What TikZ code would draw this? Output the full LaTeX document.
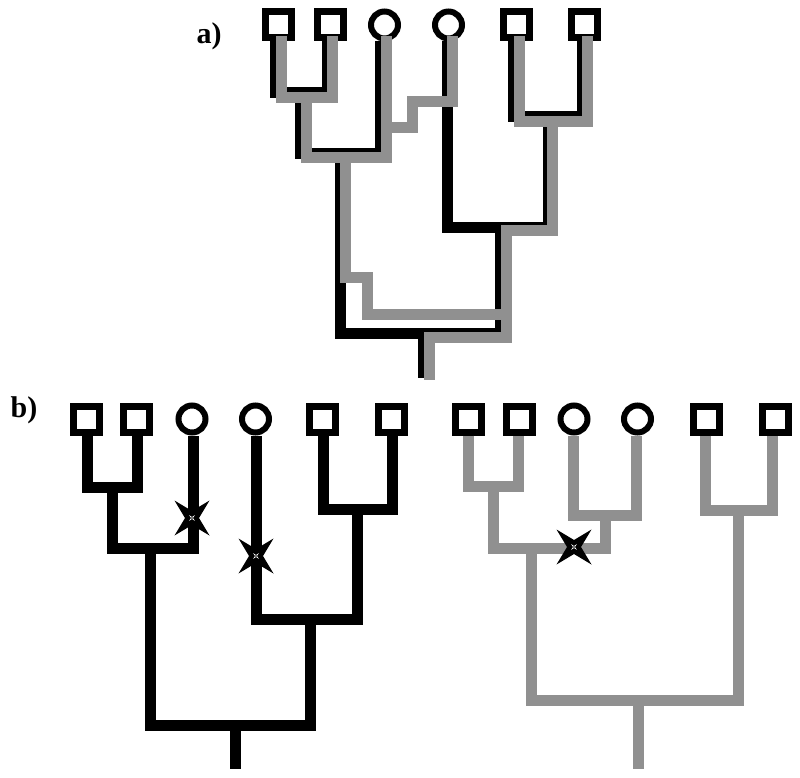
\documentclass[tikz,border=0pt]{standalone}
\usepackage{fontspec}
\setmainfont{Liberation Serif}
\definecolor{treegray}{RGB}{144,144,144}
\tikzset{
  xstar/.pic={
    \fill[black] (17.5,17.5) -- (0,7) -- (-17.5,17.5) -- (-7,0) -- (-17.5,-17.5) -- (0,-7) -- (17.5,-17.5) -- (7,0) -- cycle;
    \fill[white] (2.8,2.8) -- (0,1) -- (-2.8,2.8) -- (-1,0) -- (-2.8,-2.8) -- (0,-1) -- (2.8,-2.8) -- (1,0) -- cycle;
    \fill[black] (0,0) circle (0.8);
  }
}
\begin{document}
\begin{tikzpicture}[x=1pt,y=-1pt,
  sq/.style={draw=black,line width=7pt,rectangle,minimum size=26pt,inner sep=0pt,fill=white},
  ci/.style={draw=black,line width=6pt,circle,minimum size=27pt,inner sep=0pt,fill=white},
  blk/.style={draw=black,line width=11pt,line join=miter},
  gry/.style={draw=treegray,line width=11pt,line join=miter},
  lab/.style={font=\fontsize{30}{30}\selectfont\bfseries,inner sep=0pt}
]
\useasboundingbox (0,0) rectangle (800,778);

% ---------- labels ----------
\node[lab] (la) at (209,36) {a)};
\node[lab] (lb) at (24,410) {b)};

% ---------- a) tips ----------
\node[sq] (as1) at (278.5,25) {};
\node[sq] (as2) at (330,25) {};
\node[ci] (ac1) at (384.5,25) {};
\node[ci] (ac2) at (448.5,25) {};
\node[sq] (as5) at (516.5,25) {};
\node[sq] (as6) at (584,25) {};

% a) junction coordinates
\coordinate (aj1) at (300.5,92.5);
\coordinate (aj2) at (340,153.5);
\coordinate (aj3) at (548,117);
\coordinate (aj4) at (500,227);
\coordinate (aj5) at (423.5,333);
\coordinate (aend) at (423.5,378);

% a) black tree
\draw[blk] ([xshift=-3pt]as1.south) |- (327.5,92.5) -- ([xshift=-2.5pt]as2.south);
\draw[blk] (aj1) |- (380.5,153.5) -- ([xshift=-4pt]ac1.south);
\draw[blk] ([xshift=-3pt]as5.south) |- (582,117) -- ([xshift=-2pt]as6.south);
\draw[blk] (aj3) |- (447,227) -- ([xshift=-1.5pt]ac2.south);
\draw[blk] (aj2) |- (500,333) -- (aj4);
\draw[blk] (aj5) -- (aend);

% a) gray tree
\coordinate (gj1) at (306,97.5);
\coordinate (gj2) at (345,158);
\coordinate (gj3) at (552.5,121.5);
\coordinate (gjc) at (386.5,128);
\coordinate (gend) at (429,380);
\draw[gry] ([shift={(3pt,5pt)}]as1.south) |- (332,97.5) -- ([shift={(2pt,5pt)}]as2.south);
\draw[gry] (gj1) |- (386.5,158) -- ([shift={(2pt,5pt)}]ac1.south);
\draw[gry] (gjc) -| (412,102) -| ([shift={(3.5pt,5pt)}]ac2.south);
\draw[gry] ([shift={(2.5pt,5pt)}]as5.south) |- (587.5,121.5) -- ([shift={(3.5pt,5pt)}]as6.south);
\draw[gry] (gj3) |- (506,230) |- (429,337.5) -- (gend);
\draw[gry] (gj2) |- (367.5,277.5) |- (506,314);

% ---------- b) left (black) ----------
\node[sq] (bs1) at (86.5,419) {};
\node[sq] (bs2) at (136.5,419) {};
\node[ci] (bc1) at (192,419) {};
\node[ci] (bc2) at (255.5,419) {};
\node[sq] (bs5) at (322.5,419) {};
\node[sq] (bs6) at (391.5,419) {};

\coordinate (bj1) at (112,487);
\coordinate (bj2) at (150.5,548);
\coordinate (bj3) at (357,509);
\coordinate (bj4) at (310,619.5);
\coordinate (bj5) at (235,725);
\coordinate (bend) at (235,769);

\draw[blk] ([xshift=0.5pt]bs1.south) |- (137,487) -- ([xshift=0.5pt]bs2.south);
\draw[blk] (bj1) |- (193,548) -- ([xshift=1pt]bc1.south);
\draw[blk] ([xshift=0.5pt]bs5.south) |- (392,509) -- ([xshift=0.5pt]bs6.south);
\draw[blk] (bj3) |- (256,619.5) -- ([xshift=0.5pt]bc2.south);
\draw[blk] (bj2) |- (310,725) -- (bj4);
\draw[blk] (bj5) -- (bend);

\pic at (192,518) {xstar};
\pic at (256,556) {xstar};

% ---------- b) right (gray) ----------
\node[sq] (cs1) at (468.5,419) {};
\node[sq] (cs2) at (519,419) {};
\node[ci] (cc1) at (574,419) {};
\node[ci] (cc2) at (637.5,419) {};
\node[sq] (cs5) at (706.5,419) {};
\node[sq] (cs6) at (775,419) {};

\coordinate (cj1) at (493.5,486);
\coordinate (cjc) at (605.5,515.5);
\coordinate (cj2) at (531.5,548);
\coordinate (cj3) at (738.5,510.5);
\coordinate (cj4) at (638.5,700.5);
\coordinate (cend) at (638.5,769);

\draw[gry] ([xshift=-0.5pt]cs1.south) |- (518.5,486) -- ([xshift=-0.5pt]cs2.south);
\draw[gry] ([xshift=-0.5pt]cc1.south) |- (636.5,515.5) -- ([xshift=-1pt]cc2.south);
\draw[gry] (cj1) |- (605.5,548) -- (cjc);
\draw[gry] ([xshift=-1.5pt]cs5.south) |- (772.5,510.5) -- ([xshift=-2.5pt]cs6.south);
\draw[gry] (cj2) |- (738.5,700.5) -- (cj3);
\draw[gry] (cj4) -- (cend);

\pic at (574,547) {xstar};
\end{tikzpicture}
\end{document}
